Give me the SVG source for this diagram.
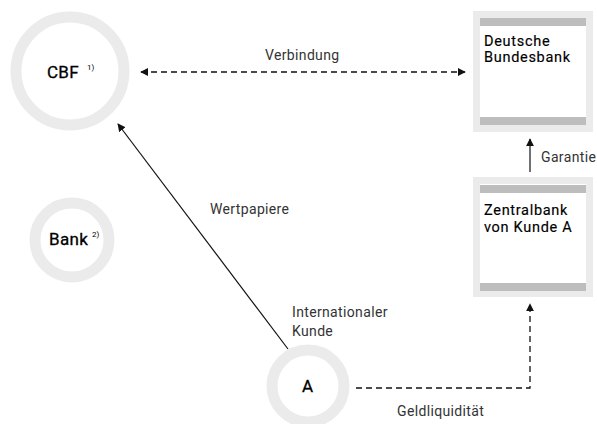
<svg xmlns="http://www.w3.org/2000/svg" width="597" height="424" viewBox="0 0 597 424">
<defs>
<style>
.ring{fill:none;stroke:#ebebeb;stroke-width:11}
.nl{font-family:Roboto,"Liberation Sans",Arial,sans-serif;font-size:17px;fill:#000;stroke:#000;stroke-width:0.3;letter-spacing:0.3px}
.bl{font-family:Roboto,"Liberation Sans",Arial,sans-serif;font-size:14.5px;fill:#000;stroke:#000;stroke-width:0.15;letter-spacing:0.7px}
.sup{font-family:Roboto,"Liberation Sans",Arial,sans-serif;font-size:8px;fill:#000}
.el{font-family:Roboto,"Liberation Sans",Arial,sans-serif;font-size:14px;fill:#333;letter-spacing:0.35px}
.outer{fill:#ebebeb}
.inner{fill:#fff}
.bar{fill:#bdbdbd}
.dash{fill:none;stroke:#111;stroke-width:1.3;stroke-dasharray:6 4}
.solid{fill:none;stroke:#111;stroke-width:1.2}
</style>
<marker id="ah" viewBox="0 0 10 10" refX="9" refY="5" markerWidth="8" markerHeight="8" markerUnits="userSpaceOnUse" orient="auto-start-reverse">
<path d="M0,0 L10,5 L0,10 z" fill="#111"/>
</marker>
</defs>
<g id="connectors">
<line class="dash" x1="141" y1="72" x2="465" y2="72" marker-start="url(#ah)" marker-end="url(#ah)"/>
<line class="solid" x1="288" y1="349" x2="118" y2="124" marker-end="url(#ah)"/>
<line class="solid" x1="530" y1="172" x2="530" y2="139" marker-end="url(#ah)"/>
<polyline class="dash" points="356,388 530,388 530,304" marker-end="url(#ah)"/>
<text class="el" x="265" y="60">Verbindung</text>
<text class="el" x="210" y="214">Wertpapiere</text>
<text class="el" x="541" y="162">Garantie</text>
<text class="el" x="397" y="416">Geldliquidität</text>
</g>
<g id="cbf">
<circle class="ring" cx="70" cy="71" r="54"/>
<text class="nl" x="47" y="78">CBF</text>
<text class="sup" x="87" y="70">1)</text>
</g>
<g id="bank">
<circle class="ring" cx="72" cy="240" r="37"/>
<text class="nl" x="49" y="245">Bank</text>
<text class="sup" x="92" y="237">2)</text>
</g>
<g id="kunde-a">
<circle class="ring" cx="308" cy="386" r="36"/>
<text class="nl" x="302" y="392">A</text>
<text class="el" x="292" y="317">Internationaler</text>
<text class="el" x="292" y="336">Kunde</text>
</g>
<g id="bundesbank">
<rect class="outer" x="473" y="11" width="120" height="121"/>
<rect class="inner" x="480" y="18" width="106" height="107"/>
<rect class="bar" x="480" y="18" width="106" height="8"/>
<rect class="bar" x="480" y="117" width="106" height="8"/>
<text class="bl" x="484" y="46">Deutsche</text>
<text class="bl" x="484" y="62">Bundesbank</text>
</g>
<g id="zentralbank">
<rect class="outer" x="473" y="177" width="120" height="120"/>
<rect class="inner" x="480" y="184" width="106" height="107"/>
<rect class="bar" x="480" y="185" width="106" height="8"/>
<rect class="bar" x="480" y="283" width="106" height="8"/>
<text class="bl" x="484" y="215">Zentralbank</text>
<text class="bl" x="484" y="232">von Kunde A</text>
</g>
</svg>
